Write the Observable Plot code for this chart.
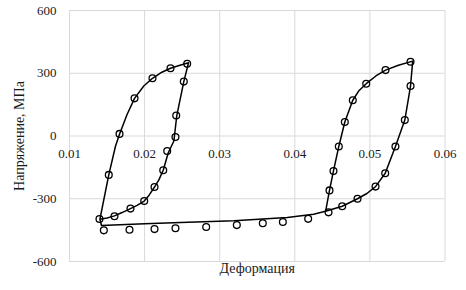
<!DOCTYPE html>
<html>
<head>
<meta charset="utf-8">
<script src="https://cdn.jsdelivr.net/npm/d3@7"></script>
<script src="https://cdn.jsdelivr.net/npm/@observablehq/plot@0.6"></script>
<style>
  html, body { margin: 0; padding: 0; background: #fff; }
</style>
</head>
<body>
<div id="chart"></div>
<script>
// Axis ticks
const xTicks = [0.01, 0.02, 0.03, 0.04, 0.05, 0.06];
const yTicks = [-600, -300, 0, 300, 600];
const xTitle = "Деформация";
const yTitle = "Напряжение, МПа";

// Model curve (solid line), strain values
const modelStrain = [
  0.01405, 0.01523, 0.01613, 0.01666, 0.01768, 0.01866, 0.01989, 0.02105, 0.02230, 0.02345, 0.02460, 0.02585,
  0.02522, 0.02428, 0.02390, 0.02315, 0.02248, 0.02190, 0.02132, 0.02060, 0.01995, 0.01900, 0.01812, 0.01700, 0.01599, 0.01500, 0.01405,
  0.01426, 0.02000, 0.02480, 0.03190, 0.03900, 0.04250, 0.04410,
  0.04462, 0.04515, 0.04586, 0.04666, 0.04772, 0.04850, 0.04951, 0.05080, 0.05208, 0.05380, 0.05570,
  0.05541, 0.05465, 0.05340, 0.05204, 0.05075, 0.04960, 0.04835, 0.04631, 0.04410
];
// Model curve, stress values (MPa)
const modelStress = [
  -398, -186, -48, 8, 104, 180, 239, 276, 305, 324, 337, 350,
  260, 96, -24, -80, -164, -210, -244, -283, -311, -332, -347, -366, -382, -392, -398,
  -428, -420, -414, -405, -390, -374, -360,
  -260, -167, -50, 67, 171, 215, 250, 287, 315, 338, 358,
  239, 76, -50, -178, -242, -275, -300, -336, -360
];

// Experimental points (open circles), strain values
const expStrain = [
  0.01399, 0.01523, 0.01666, 0.01866, 0.02105, 0.02345, 0.02567, 0.02522, 0.02421, 0.02411, 0.02301, 0.02248, 0.02132, 0.01995, 0.01812, 0.01599,
  0.01457, 0.01799, 0.02132, 0.02411, 0.02820, 0.03228, 0.03574, 0.03841, 0.04178,
  0.04449, 0.04462, 0.04515, 0.04586, 0.04666, 0.04772, 0.04951, 0.05208, 0.05541, 0.05541, 0.05465, 0.05340, 0.05204, 0.05075, 0.04835, 0.04631
];
// Experimental points, stress values (MPa)
const expStress = [
  -397, -186, 10, 180, 276, 324, 345, 260, 98, -5, -72, -164, -244, -311, -347, -384,
  -451, -448, -445, -441, -435, -426, -417, -411, -396,
  -365, -260, -167, -50, 67, 171, 250, 315, 355, 239, 76, -50, -178, -242, -300, -336
];

const model = modelStrain.map((x, i) => ({x, y: modelStress[i]}));
const exp = expStrain.map((x, i) => ({x, y: expStress[i]}));

const textColor = "#1a1a1a";
const grid = "#d9d9d9";
const serif = "'Liberation Serif', 'Times New Roman', serif";

const chart = Plot.plot({
  width: 466,
  height: 290,
  marginLeft: 69,
  marginRight: 21.5,
  marginTop: 10,
  marginBottom: 29,
  x: {domain: [0.01, 0.06], axis: null},
  y: {domain: [-600, 600], axis: null},
  style: {fontFamily: serif, fontSize: "13px", color: textColor, background: "#fff"},
  marks: [
    Plot.gridX(xTicks, {stroke: grid, strokeOpacity: 1, strokeWidth: 1}),
    Plot.gridY(yTicks, {stroke: grid, strokeOpacity: 1, strokeWidth: 1}),
    Plot.axisY(yTicks, {tickSize: 0, tickPadding: 13, tickFormat: d => String(d), label: null, fontSize: 13, fontFamily: serif, fill: textColor}),
    Plot.text(xTicks, {x: d => d, y: () => 0, dy: 18, text: d => d.toFixed(2), fontSize: 13, fontFamily: serif, fill: textColor}),
    Plot.line(model, {x: "x", y: "y", stroke: "#000", strokeWidth: 1.5, curve: "linear"}),
    Plot.dot(exp, {x: "x", y: "y", r: 3.4, stroke: "#000", strokeWidth: 1.3, fill: "none"}),
    Plot.text([xTitle], {frameAnchor: "bottom", dy: 11, text: d => d, fontSize: 14, fontFamily: serif, fill: textColor}),
    Plot.text([yTitle], {frameAnchor: "left", textAnchor: "middle", rotate: -90, dx: -50, text: d => d, fontSize: 14, fontFamily: serif, fill: textColor})
  ]
});
document.getElementById("chart").appendChild(chart);
</script>
</body>
</html>
